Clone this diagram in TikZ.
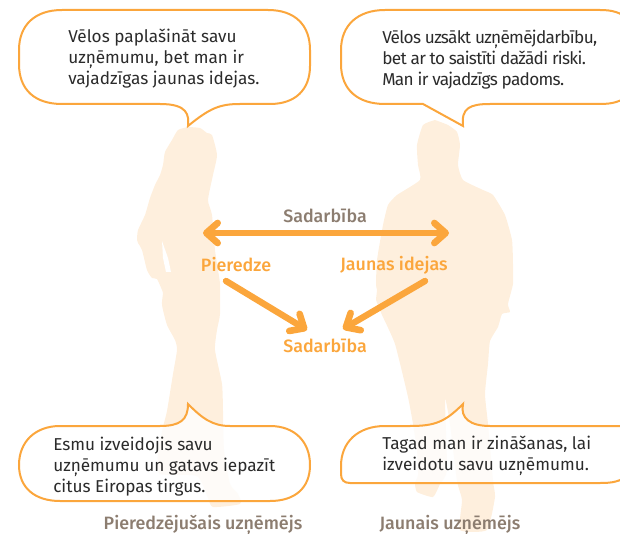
\documentclass[tikz,border=0pt]{standalone}
\usepackage{fontspec}
\setmainfont{Fira Sans}
\newfontfamily\medfont{Fira Sans Medium}
\newfontfamily\tightfont{Fira Sans}[LetterSpace=-4]
\usetikzlibrary{arrows.meta}
\definecolor{silh}{HTML}{FEEFDD}
\definecolor{orng}{HTML}{FBA63C}
\definecolor{greyb}{HTML}{8C7D70}
\definecolor{ink}{HTML}{2B2B2B}
\tikzset{
  bubble/.style={draw=orng,line width=1.5pt,fill=white,fill opacity=0.8},
  silhouette/.style={fill=silh,draw=none},
  speech/.style={anchor=north west,align=left,text=ink,font=\fontsize{12.9}{15.75}\selectfont,inner sep=0pt},
  orangelabel/.style={text=orng,font=\medfont\fontsize{13.4}{15}\selectfont,inner sep=0pt},
  greylabel/.style={text=greyb,font=\medfont\fontsize{13.4}{15}\selectfont,inner sep=0pt},
  flow/.style={draw=orng,line width=4.8pt,line cap=round},
  barb/.tip={Straight Barb[round,length=8.5pt,width=15pt,line width=5pt]},
}
\begin{document}
\begin{tikzpicture}[x=0.75pt,y=-0.75pt]
\useasboundingbox (0,0) rectangle (620,534);
\clip (0,0) rectangle (620,534);
% woman
\path[silhouette] plot[smooth,tension=0.35] coordinates {
 (188,127) (178,130) (172,140) (165,152) (163,165) (160,175) (155,185) (150,198) (145,215) (138,230) (137,240) (138,243)
 (142,250) (147,270) (152,278) (157,279) (162,290) (163,293) (162,305) (167,325) (175,340) (177,350) (173,374) (167,411)
 (163,427) (158,454) (160,474) (197,476) (208,498) (213,507) (240,504) (238,494) (230,484) (224,450) (223,411) (222,384)
 (215,350) (217,330) (220,314) (220,284) (218,270) (215,250) (212,215) (208,200) (213,175) (217,155) (212,135) (207,133) (200,128) (188,127)};
\path[fill=white] (162,241) -- (168,258) -- (171,272) -- (166,272) -- (163,258) -- cycle;
% man
\path[silhouette] plot[smooth,tension=0.3] coordinates {
 (435,120) (423,125) (417,145) (418,165) (420,180) (397,195) (388,205) (383,225) (377,260) (376,285) (377,290) (376,300)
 (378,305) (382,315) (395,344) (408,397) (413,424) (417,450) (418,475) (415,483) (417,492) (433,497) (440,484) (447,470)
 (445,399) (450,424) (457,481) (462,500) (460,530) (487,530) (495,497) (493,481) (488,424) (485,394) (488,364) (490,341)
 (498,327) (502,314) (510,312) (508,304) (513,284) (513,264) (512,240) (505,215) (493,195) (483,190) (463,180) (458,165)
 (460,145) (457,132) (448,125) (435,120)};
% bubbles
\path[bubble] (62,10) -- (268,10) .. controls (295,10) and (310,25) .. (310,50) -- (310,66)
  .. controls (310,90) and (295,104) .. (270,104) -- (240,104) .. controls (220,104) and (210,108) .. (188,126)
  .. controls (189,115) and (188,104) .. (160,104) -- (62,104) .. controls (35,104) and (19,90) .. (19,64) -- (19,50)
  .. controls (19,25) and (35,10) .. (62,10) -- cycle;
\path[bubble] (385,10) -- (600,10) .. controls (612,10) and (620,12) .. (630,20) -- (630,95) .. controls (620,102) and (612,104) .. (600,104)
  -- (490,104) .. controls (470,104) and (461,108) .. (463,126) -- (423,104) -- (385,104) .. controls (358,104) and (341,90) .. (341,64) -- (341,50)
  .. controls (341,25) and (358,10) .. (385,10) -- cycle;
\path[bubble] (60,426) -- (160,426) .. controls (180,426) and (188,420) .. (188,404)
  .. controls (202,418) and (212,426) .. (230,426) -- (270,426) .. controls (295,426) and (310,442) .. (310,465)
  .. controls (310,488) and (295,501) .. (270,501) -- (60,501) .. controls (35,501) and (19,488) .. (19,465)
  .. controls (19,442) and (35,426) .. (60,426) -- cycle;
\path[bubble] (385,426) -- (410,426) .. controls (435,426) and (445,422) .. (463,404)
  .. controls (460,418) and (470,426) .. (490,426) -- (630,426) -- (630,474) .. controls (620,482) and (612,483) .. (600,483)
  -- (350,483) .. controls (344,483) and (341,480) .. (341,474) -- (341,466)
  .. controls (341,442) and (358,426) .. (385,426) -- cycle;
% speech text
\node[speech] (t1) at (68,29) {Vēlos paplašināt savu\\uzņēmumu, bet man ir\\vajadzīgas jaunas idejas.};
\node[speech,font=\tightfont\fontsize{12.9}{15.75}\selectfont] (t2) at (382,30) {Vēlos uzsākt uzņēmējdarbību,\\bet ar to saistīti dažādi riski.\\Man ir vajadzīgs padoms.};
\node[speech] (t3) at (53,437) {Esmu izveidojis savu\\uzņēmumu un gatavs iepazīt\\citus Eiropas tirgus.};
\node[speech] (t4) at (382,436) {Tagad man ir zināšanas, lai\\izveidotu savu uzņēmumu.};
% labels
\node[greylabel] (sadTop) at (325,216) {Sadarbība};
\node[orangelabel] (pier) at (236,265) {Pieredze};
\node[orangelabel] (idej) at (394,265) {Jaunas idejas};
\node[orangelabel] (sadBot) at (325,346) {Sadarbība};
\node[greylabel] (capL) at (203,525) {Pieredzējušais uzņēmējs};
\node[greylabel] (capR) at (450,525) {Jaunais uzņēmējs};
% arrows
\coordinate (hl) at (203,233);
\coordinate (hr) at (449,233);
\coordinate (pstart) at (226,281);
\coordinate (pend) at (307,330);
\coordinate (istart) at (425,281);
\coordinate (iend) at (343,329);
\draw[flow,{barb}-{barb}] (hl) -- (hr);
\draw[flow,-{barb}] (pstart) -- (pend);
\draw[flow,-{barb}] (istart) -- (iend);
\end{tikzpicture}
\end{document}
